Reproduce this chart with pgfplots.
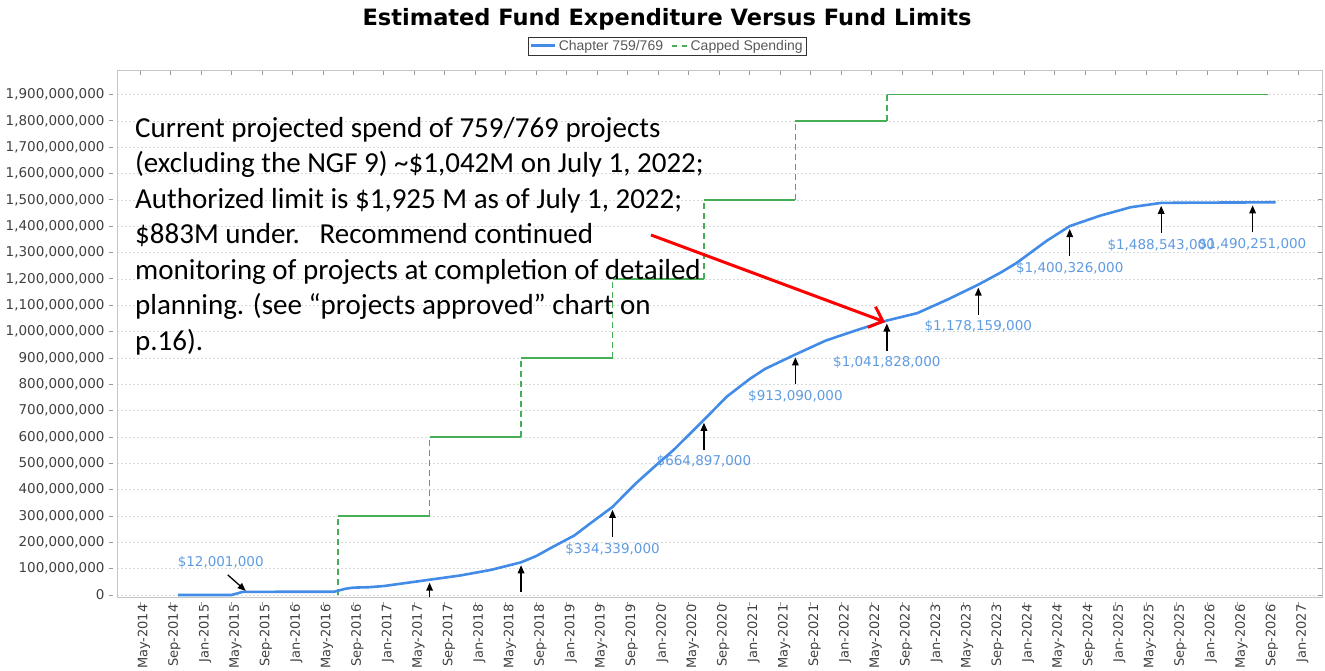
\documentclass[border=0pt]{standalone}
\usepackage{pgfplots}
\pgfplotsset{compat=1.18}
\usepackage{fontspec}
\setmainfont{DejaVu Sans}
\newfontfamily\calibri{Carlito}
\newfontfamily\arial{Liberation Sans}
\usetikzlibrary{arrows.meta}

\definecolor{curveblue}{RGB}{66,139,230}
\definecolor{labelblue}{RGB}{95,155,225}
\definecolor{capgreen}{RGB}{70,175,85}
\definecolor{tickgray}{RGB}{64,64,64}

% up arrow drawn under a point
\pgfdeclareplotmark{uparrow}{%
  \pgfpathmoveto{\pgfqpoint{0pt}{-30pt}}%
  \pgfpathlineto{\pgfqpoint{0pt}{-8pt}}%
  \pgfusepathqstroke
  \pgfpathmoveto{\pgfqpoint{0pt}{-3pt}}%
  \pgfpathlineto{\pgfqpoint{-3.5pt}{-11pt}}%
  \pgfpathlineto{\pgfqpoint{3.5pt}{-11pt}}%
  \pgfpathclose
  \pgfusepathqfill}
\pgfdeclareplotmark{uparrowshort}{%
  \pgfpathmoveto{\pgfqpoint{0pt}{-17pt}}%
  \pgfpathlineto{\pgfqpoint{0pt}{-8pt}}%
  \pgfusepathqstroke
  \pgfpathmoveto{\pgfqpoint{0pt}{-3pt}}%
  \pgfpathlineto{\pgfqpoint{-3.5pt}{-11pt}}%
  \pgfpathlineto{\pgfqpoint{3.5pt}{-11pt}}%
  \pgfpathclose
  \pgfusepathqfill}
\pgfdeclareplotmark{diagarrow}{%
  \pgfpathmoveto{\pgfqpoint{-19pt}{17pt}}%
  \pgfpathlineto{\pgfqpoint{-6pt}{5.5pt}}%
  \pgfusepathqstroke
  \pgfpathmoveto{\pgfqpoint{-1pt}{1pt}}%
  \pgfpathlineto{\pgfqpoint{-4.7pt}{8.9pt}}%
  \pgfpathlineto{\pgfqpoint{-9.3pt}{3.7pt}}%
  \pgfpathclose
  \pgfusepathqfill}

\begin{document}
\begin{tikzpicture}
\useasboundingbox (0pt,0pt) rectangle (1325pt,671pt);
\begin{axis}[
  at={(117pt,74pt)}, anchor=south west,
  scale only axis, width=1205pt, height=527pt,
  xmin=0.98, xmax=159.1, ymin=-7.6, ymax=1993,
  axis line style={draw=gray!45},
  tick align=outside, major tick length=4pt,
  tick style={draw=gray!80, line width=0.8pt},
  xtick={4,8,...,156},
  xticklabels={May-2014,Sep-2014,Jan-2015,May-2015,Sep-2015,Jan-2016,May-2016,Sep-2016,
    Jan-2017,May-2017,Sep-2017,Jan-2018,May-2018,Sep-2018,Jan-2019,May-2019,Sep-2019,
    Jan-2020,May-2020,Sep-2020,Jan-2021,May-2021,Sep-2021,Jan-2022,May-2022,Sep-2022,
    Jan-2023,May-2023,Sep-2023,Jan-2024,May-2024,Sep-2024,Jan-2025,May-2025,Sep-2025,
    Jan-2026,May-2026,Sep-2026,Jan-2027},
  x tick style={yshift=-5pt},
  xticklabel style={rotate=90, anchor=east, yshift=-4pt, font=\fontsize{13}{15}\selectfont, text=tickgray},
  ytick={0,100,...,1900},
  yticklabels={0,{100,000,000},{200,000,000},{300,000,000},{400,000,000},{500,000,000},
    {600,000,000},{700,000,000},{800,000,000},{900,000,000},{1,000,000,000},{1,100,000,000},
    {1,200,000,000},{1,300,000,000},{1,400,000,000},{1,500,000,000},{1,600,000,000},
    {1,700,000,000},{1,800,000,000},{1,900,000,000}},
  y tick style={xshift=-4pt},
  yticklabel style={anchor=east, xshift=-5pt, font=\fontsize{13.5}{15}\selectfont, text=tickgray},
  ymajorgrids, grid style={draw=gray!30, dash pattern=on 2pt off 2pt},
  legend style={at={(0.4564,1)}, anchor=south, yshift=15pt, draw=black!80,
    font=\arial\fontsize{14}{16}\selectfont, text=black!65, legend columns=2,
    inner sep=1.2pt, /tikz/every even column/.append style={column sep=6pt},
    /tikz/every odd column/.append style={column sep=1pt}},
]
% offset axis lines
\draw[gray!80, line width=0.8pt] ([xshift=-4pt]rel axis cs:0,0) -- ([xshift=-4pt]rel axis cs:0,1);
\draw[gray!80, line width=0.8pt] ([yshift=-5pt]rel axis cs:0,0) -- ([yshift=-5pt]rel axis cs:1,0);

\addlegendimage{legend image code/.code={\draw[curveblue, line width=2.6pt] (0pt,0pt) -- (24pt,0pt);}}
\addlegendentry{Chapter 759/769}
\addlegendimage{legend image code/.code={\draw[capgreen, line width=1.5pt, dash pattern=on 5pt off 5pt] (0pt,0pt) -- (15pt,0pt);}}
\addlegendentry{Capped Spending}

% capped spending: horizontal runs solid, risers dashed
\addplot[capgreen, line width=1.5pt, unbounded coords=jump, forget plot] coordinates {
  (30,300)(42,300)(42,nan)(42,600)(54,600)(54,nan)(54,900)(66,900)(66,nan)
  (66,1200)(78,1200)(78,nan)(78,1500)(90,1500)(90,nan)(90,1800)(102,1800)(102,nan)
  (102,1900)(152,1900)};
\addplot[capgreen, line width=1.5pt, dash pattern=on 6pt off 4pt, unbounded coords=jump, forget plot] coordinates {
  (30,0)(30,300)(30,nan)(42,300)(42,600)(42,nan)(54,600)(54,900)(54,nan)
  (66,900)(66,1200)(66,nan)(78,1200)(78,1500)(78,nan)(90,1500)(90,1800)(90,nan)
  (102,1800)(102,1900)};

% chapter 759/769 projected spend (millions)
\addplot[curveblue, line width=2.6pt, forget plot] coordinates {
  (9,0)(16,0)(17.5,12)(18,12.001)(24,12.2)(29.5,12.5)(31,24)(32,28)(34,29.5)(36,34)
  (38,42)(40,50)(42,58)(46,74)(50,95)(54,124)(56,148)(58,180)(61,226)(63,270)
  (66,334.339)(69,422)(72,500)(74,550)(78,664.897)(81,753)(84,820)(86,858)
  (90,913.09)(94,966)(98,1005)(102,1041.828)(106,1070)(110,1122)(114,1178.159)
  (117,1225)(119,1260)(123,1345)(126,1400.326)(130,1440)(134,1472)(138,1488.543)
  (143,1489.5)(150,1490.251)(153,1491)};

% annotated points
\addplot[only marks, mark=uparrow, mark options={draw=black, fill=black, line width=1.3pt, solid},
  nodes near coords, point meta=explicit symbolic, forget plot,
  every node near coord/.append style={anchor=center, yshift=-42pt,
    font=\fontsize{13.5}{15}\selectfont, text=labelblue, inner sep=0pt}]
  coordinates {
  (66,334.339)[\$334,339,000] (78,664.897)[\$664,897,000] (90,913.09)[\$913,090,000]
  (102,1041.828)[\$1,041,828,000] (114,1178.159)[\$1,178,159,000]
  (126,1400.326)[\$1,400,326,000] (138,1488.543)[\$1,488,543,000]
  (150,1490.251)[\$1,490,251,000]};
\addplot[only marks, mark=uparrow, mark options={draw=black, fill=black, line width=1.3pt, solid}, forget plot]
  coordinates {(54,124)};
\addplot[only marks, mark=uparrowshort, mark options={draw=black, fill=black, line width=1.3pt, solid}, forget plot]
  coordinates {(42,58)};
\addplot[only marks, mark=diagarrow, mark options={draw=black, fill=black, line width=1.3pt, solid},
  nodes near coords, point meta=explicit symbolic, forget plot,
  every node near coord/.append style={anchor=center, xshift=-26pt, yshift=29pt,
    font=\fontsize{13.5}{15}\selectfont, text=labelblue, inner sep=0pt}]
  coordinates {(18,12.001)[\$12,001,000]};
\end{axis}

\node[anchor=base, font=\bfseries\fontsize{22.5}{26}\selectfont] at (667pt,645pt)
  {Estimated Fund Expenditure Versus Fund Limits};

\node[anchor=north west, inner sep=0pt, align=left,
  font=\calibri\fontsize{29}{35.5}\selectfont] at (135pt,554pt)
  {Current projected spend of 759/769 projects\\
   (excluding the NGF 9) \textasciitilde\$1,042M on July 1, 2022;\\
   Authorized limit is \$1,925 M as of July 1, 2022;\\
   \$883M under.\ \ \ Recommend continued\\
   monitoring of projects at completion of detailed\\
   planning. (see “projects approved” chart on\\
   p.16).};

\draw[red, line width=3pt, -{Straight Barb[length=12pt, width=22pt]}] (651pt,436pt) -- (885pt,349pt);
\end{tikzpicture}
\end{document}
